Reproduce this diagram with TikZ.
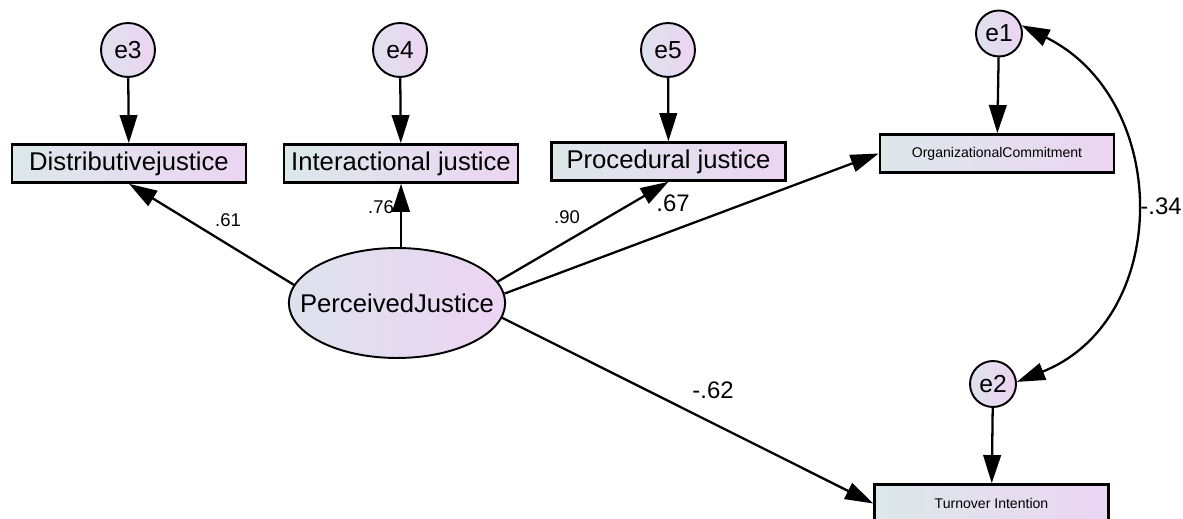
\documentclass[tikz,border=0pt]{standalone}
\usepackage{fontspec}
\setmainfont{Liberation Sans}
\usetikzlibrary{arrows.meta,shapes.geometric}
\definecolor{boxL}{RGB}{220,232,234}
\definecolor{boxR}{RGB}{236,213,242}
\definecolor{elL}{RGB}{221,226,237}
\definecolor{elR}{RGB}{236,212,242}
\tikzset{
  obs/.style={draw, line width=1.5pt, left color=boxL, right color=boxR,
    minimum width=4.68cm, minimum height=0.76cm, inner sep=0pt,
    font=\fontsize{14.6}{16}\selectfont},
  obssmall/.style={obs, font=\fontsize{8}{9}\selectfont},
  errbig/.style={draw, circle, line width=1.1pt, left color=elL, right color=elR,
    minimum size=1.08cm, inner sep=0pt, font=\fontsize{14}{16}\selectfont},
  errsmall/.style={errbig, minimum size=0.92cm},
  latent/.style={draw, ellipse, line width=1.1pt, left color=elL, right color=elR,
    minimum width=4.32cm, minimum height=2.2cm, inner xsep=-0.41cm, inner ysep=0pt,
    font=\fontsize{14.6}{16}\selectfont},
  arr/.style={line width=1.3pt, -{Triangle[length=16pt,width=10pt]}},
  cov/.style={line width=1.3pt, {Triangle[length=16pt,width=10pt]}-{Triangle[length=16pt,width=10pt]}},
  lblsmall/.style={inner sep=0pt, font=\fontsize{10.5}{12}\selectfont},
  lblbig/.style={inner sep=0pt, font=\fontsize{13.6}{15}\selectfont}
}
\begin{document}
\begin{tikzpicture}[x=0.02cm,y=-0.02cm]
\useasboundingbox (0,0) rectangle (1183,519);
\fill[white] (0,0) rectangle (1183,519);
% latent
\node[latent] (pj) at (397,303) {PerceivedJustice};
% observed
\node[obs] (dist) at (129,163.5) {Distributivejustice};
\node[obs] (inter) at (401,163.5) {Interactional justice};
\node[obs] (proc) at (668.5,161.5) {Procedural justice};
\node[obssmall] (oc) at (997,153.5) {OrganizationalCommitment};
\node[obssmall] (ti) at (991.5,503.5) {Turnover Intention};
% errors
\node[errbig] (e3) at (128,50) {e3};
\node[errbig] (e4) at (400,50) {e4};
\node[errbig] (e5) at (668,50) {e5};
\node[errsmall] (e1) at (999,33.5) {e1};
\node[errsmall] (e2) at (993,384) {e2};
% error arrows
\draw[arr] (e3) -- (dist);
\draw[arr] (e4) -- (inter);
\draw[arr] (e5) -- (proc);
\draw[arr] (e1) -- (oc);
\draw[arr] (e2) -- (ti);
% structural paths
\draw[arr] (pj.170) -- (dist.south);
\draw[arr] (inter.south |- pj.north) -- (inter.south);
\draw[arr] (pj.12) -- (proc.south);
\draw[arr] (pj.5) -- (oc.west);
\draw[arr] (pj.-8) -- (ti.west);
% covariance
\draw[cov] (e1.20) .. controls (1172,100) and (1172,320) .. (e2.5);
% labels
\node[lblsmall] (l61) at (228,220) {.61};
\node[lblsmall] (l76) at (381,207) {.76};
\node[lblsmall] (l90) at (567,217) {.90};
\node[lblbig] (l67) at (673,203) {.67};
\node[lblbig] (l34) at (1161,206) {-.34};
\node[lblbig] (l62) at (713,390) {-.62};
\end{tikzpicture}
\end{document}
